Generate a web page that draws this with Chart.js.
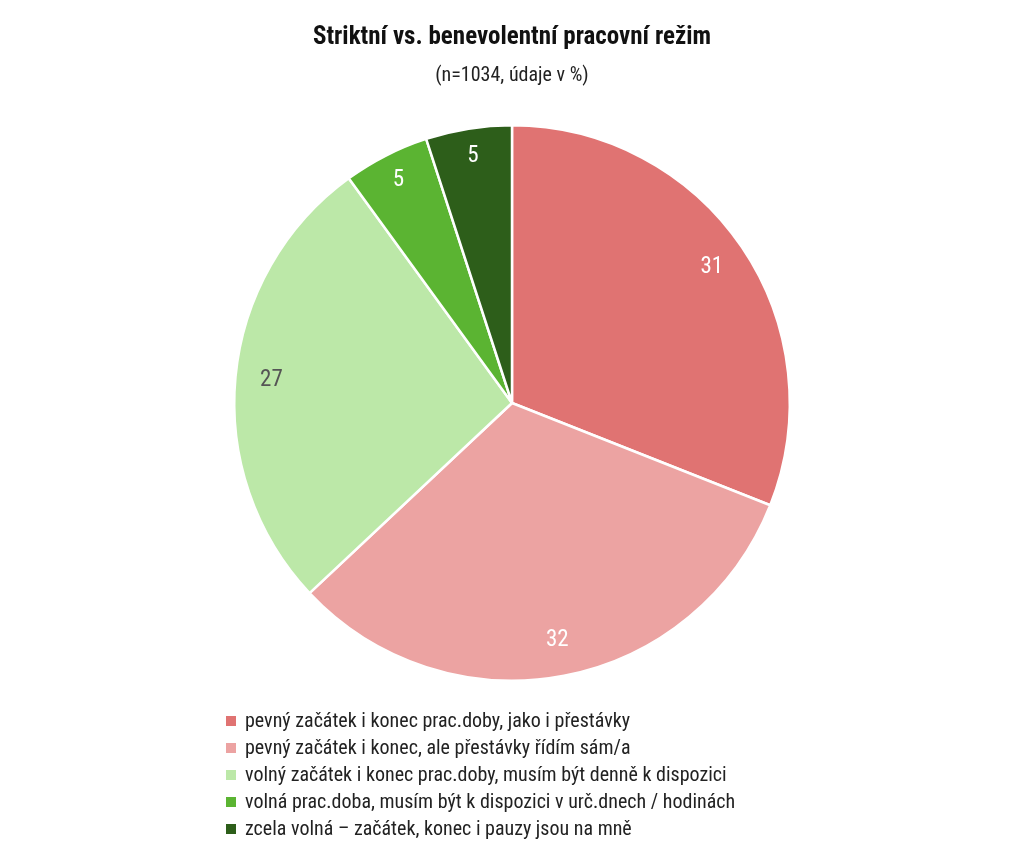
<!DOCTYPE html>
<html><head><meta charset="utf-8">
<script src="https://cdn.jsdelivr.net/npm/chart.js@4"></script>
<style>
body{margin:0;background:#fff;font-family:"Liberation Sans Narrow","Roboto Condensed","Liberation Sans",Arial,sans-serif;}
#wrap{position:relative;width:1024px;height:852px;}
#legend{position:absolute;left:226px;top:707px;font-size:20px;color:#222;line-height:27px;}
#legend div{display:flex;align-items:center;}
#legend span{display:inline-block;width:10px;height:10px;margin-right:9px;}
</style></head><body>
<div id="wrap"><canvas id="c" width="1024" height="852"></canvas><div id="legend"></div></div>
<script>
const categories=["pevný začátek i konec prac.doby, jako i přestávky","pevný začátek i konec, ale přestávky řídím sám/a","volný začátek i konec prac.doby, musím být denně k dispozici","volná prac.doba, musím být k dispozici v urč.dnech / hodinách","zcela volná – začátek, konec i pauzy jsou na mně"];
const values=[31,32,27,5,5];
const colors=["#e07372","#eca3a2","#bce8a8","#5bb432","#2d5e1a"];
const labelColors=["#fff","#fff","#555","#fff","#fff"];
const titleText="Striktní vs. benevolentní pracovní režim";
const subtitleText="(n=1034, údaje v %)";
const FONT='"Liberation Sans Narrow","Roboto Condensed","Liberation Sans",Arial,sans-serif';
const deco={id:'deco',afterDraw(ch){const c=ch.ctx;c.save();c.textAlign='center';c.textBaseline='middle';
c.fillStyle='#111';c.font='bold 25px '+FONT;c.fillText(titleText,512,38);
c.font='20px '+FONT;c.fillStyle='#222';c.fillText(subtitleText,512,76);
c.font='23px '+FONT;
ch.getDatasetMeta(0).data.forEach((a,i)=>{const p=a.getProps(['x','y','startAngle','endAngle','outerRadius'],true);
const m=(p.startAngle+p.endAngle)/2,r=p.outerRadius*(values[i]<10?0.9:0.87);
c.fillStyle=labelColors[i];c.fillText(String(values[i]),p.x+Math.cos(m)*r,p.y+Math.sin(m)*r);});
c.restore();}};
new Chart(document.getElementById('c'),{type:'pie',
data:{labels:categories,datasets:[{data:values,backgroundColor:colors,borderColor:'#fff',borderWidth:2.5}]},
options:{responsive:false,animation:false,layout:{padding:{top:124,bottom:170}},
plugins:{legend:{display:false},tooltip:{enabled:false}}},plugins:[deco]});
document.getElementById('legend').innerHTML=categories.map((t,i)=>`<div><span style="background:${colors[i]}"></span>${t}</div>`).join('');
</script></body></html>
